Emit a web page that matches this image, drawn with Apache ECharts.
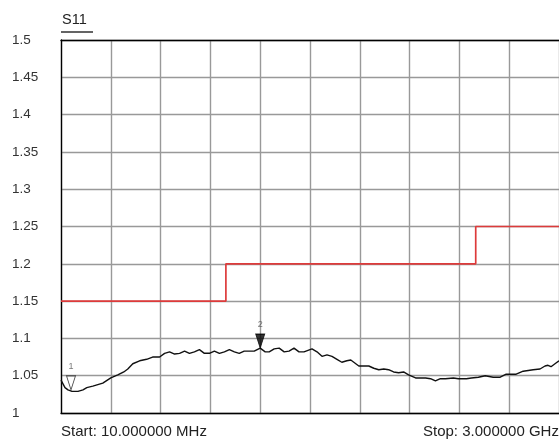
<!DOCTYPE html>
<html>
<head>
<meta charset="utf-8">
<script src="https://cdn.jsdelivr.net/npm/echarts@6/dist/echarts.min.js"></script>
<style>html,body{margin:0;padding:0;background:#fff;}#c{width:559px;height:439px;}</style>
</head>
<body>
<div id="c"></div>
<script>
// Trace frequencies (MHz) and S11 VSWR values
var traceFreq = [10,34,52,76,112,142,165,201,231,261,309,351,387,411,441,482,524,560,602,632,662,692,722,752,781,811,841,871,901,931,961,991,1021,1051,1080,1110,1140,1170,1206,1236,1260,1290,1320,1350,1379,1409,1439,1469,1517,1547,1577,1607,1637,1667,1696,1726,1750,1774,1798,1858,1888,1918,1948,1977,2007,2037,2067,2097,2139,2199,2229,2258,2288,2318,2366,2396,2444,2474,2516,2557,2605,2647,2683,2743,2785,2845,2886,2916,2934,2952,2982,3000];
var traceVal = [1.044,1.034,1.031,1.029,1.029,1.031,1.034,1.036,1.038,1.040,1.047,1.051,1.055,1.059,1.066,1.070,1.072,1.075,1.075,1.080,1.082,1.079,1.080,1.083,1.080,1.082,1.085,1.080,1.080,1.083,1.080,1.082,1.085,1.082,1.080,1.083,1.083,1.083,1.087,1.082,1.082,1.086,1.087,1.082,1.083,1.087,1.082,1.082,1.086,1.082,1.076,1.078,1.076,1.072,1.068,1.070,1.071,1.067,1.063,1.063,1.060,1.058,1.059,1.058,1.055,1.054,1.055,1.051,1.047,1.047,1.046,1.043,1.046,1.046,1.047,1.046,1.046,1.047,1.048,1.050,1.048,1.048,1.052,1.052,1.056,1.058,1.059,1.063,1.064,1.062,1.067,1.070];
// Limit line (step)
var limitFreq = [10,1000,1000,2500,2500,3000];
var limitVal = [1.15,1.15,1.2,1.2,1.25,1.25];
// Markers
var markerNames = ['1','2'];
var markerFreq = [70,1206];
var markerVal = [1.031,1.087];
// Axis
var yMin = 1, yMax = 1.5, yStep = 0.05;
var xStart = 10, xStop = 3000, xDivisions = 10;
var titleText = 'S11';
var startText = 'Start: 10.000000 MHz';
var stopText = 'Stop: 3.000000 GHz';

function zip(a,b){return a.map(function(v,i){return [v,b[i]];});}
var tri = 'path://M0,0 L10,0 L5,16 Z';
var FF = 'Liberation Sans, Arial, sans-serif';
var chart = echarts.init(document.getElementById('c'));
chart.setOption({
  backgroundColor:'#fff',
  animation:false,
  grid:{left:61, top:40, width:500, height:373},
  xAxis:[
    {type:'value', min:xStart, max:xStop, position:'top',
     axisLine:{show:true, lineStyle:{color:'#000', width:1.3}},
     axisTick:{show:false}, axisLabel:{show:false}, splitLine:{show:false}},
    {type:'value', min:0, max:xDivisions, interval:1, position:'bottom',
     axisLine:{show:true, onZero:false, lineStyle:{color:'#000', width:1.3}},
     axisTick:{show:false}, axisLabel:{show:false},
     splitLine:{show:true, lineStyle:{color:'#999', width:1.4}}}
  ],
  yAxis:{type:'value', min:yMin, max:yMax, interval:yStep,
     axisLine:{show:true, lineStyle:{color:'#000', width:1.3}},
     axisTick:{show:false},
     axisLabel:{show:true, align:'left', margin:49, color:'#333', fontSize:13.5, fontFamily:FF},
     splitLine:{show:true, lineStyle:{color:'#999', width:1.4}}},
  series:[
    {type:'line', xAxisIndex:0, data:zip(limitFreq,limitVal), showSymbol:false,
     lineStyle:{color:'#dd3b3b', width:1.7}, z:3},
    {type:'line', xAxisIndex:0, data:zip(traceFreq,traceVal), showSymbol:false,
     lineStyle:{color:'#111', width:1.4}, z:4},
    {type:'scatter', xAxisIndex:0, z:5,
     data:[
       {value:[markerFreq[0],markerVal[0]], name:markerNames[0], itemStyle:{color:'#fff', borderColor:'#222', borderWidth:1}},
       {value:[markerFreq[1],markerVal[1]], name:markerNames[1], itemStyle:{color:'#000', borderColor:'#000', borderWidth:1}}
     ],
     symbol:tri, symbolSize:[9,14], symbolOffset:[0,'-50%'],
     label:{show:true, position:'top', distance:4, formatter:function(p){return p.name;}, color:'#555', fontSize:9, fontFamily:FF}}
  ],
  graphic:[
    {type:'text', left:62, top:12, style:{text:titleText, fill:'#222', font:'14.5px '+FF}},
    {type:'line', shape:{x1:61, y1:32, x2:93, y2:32}, style:{stroke:'#222', lineWidth:1.4}},
    {type:'text', left:61, top:424, style:{text:startText, fill:'#222', font:'15px '+FF}},
    {type:'text', left:423, top:424, style:{text:stopText, fill:'#222', font:'15px '+FF}}
  ]
});
</script>
</body>
</html>
